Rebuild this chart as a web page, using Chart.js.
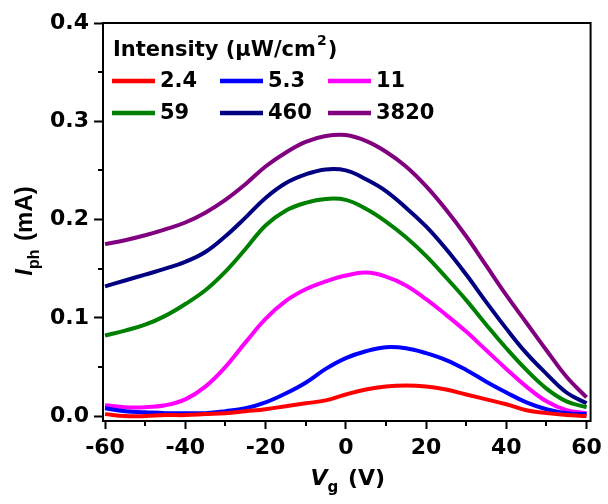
<!DOCTYPE html>
<html>
<head>
<meta charset="utf-8">
<script src="https://cdn.jsdelivr.net/npm/chart.js@4"></script>
<style>
  html, body { margin: 0; padding: 0; background: #fff; }
  #wrap { width: 608px; height: 504px; }
</style>
</head>
<body>
<div id="wrap"><canvas id="ivChart" width="608" height="504"></canvas></div>
<script>
// gate voltage (V)
const vg = [-60, -55, -50, -45, -40, -35, -30, -25, -20, -15, -10, -5, 0,
            5, 10, 15, 20, 25, 30, 35, 40, 45, 50, 55, 60];

// photocurrent (mA) for each light intensity (uW/cm2)
const intensities = ['2.4', '5.3', '11', '59', '460', '3820'];
const i_2_4  = [0.002, 0.000, 0.000, 0.001, 0.001, 0.002, 0.003, 0.005, 0.007, 0.010, 0.013, 0.016, 0.022,
                0.027, 0.030, 0.031, 0.030, 0.027, 0.022, 0.017, 0.012, 0.006, 0.003, 0.001, 0.000];
const i_5_3  = [0.008, 0.005, 0.004, 0.003, 0.003, 0.003, 0.005, 0.008, 0.014, 0.023, 0.034, 0.048, 0.059,
                0.066, 0.070, 0.069, 0.064, 0.057, 0.047, 0.035, 0.024, 0.014, 0.007, 0.003, 0.002];
const i_11   = [0.011, 0.009, 0.009, 0.011, 0.017, 0.030, 0.050, 0.075, 0.099, 0.117, 0.129, 0.137, 0.143,
                0.146, 0.142, 0.133, 0.119, 0.103, 0.086, 0.067, 0.048, 0.030, 0.015, 0.006, 0.003];
const i_59   = [0.082, 0.087, 0.093, 0.102, 0.114, 0.128, 0.147, 0.170, 0.194, 0.209, 0.217, 0.221, 0.220,
                0.211, 0.198, 0.182, 0.163, 0.141, 0.118, 0.093, 0.069, 0.047, 0.028, 0.015, 0.009];
const i_460  = [0.132, 0.138, 0.144, 0.150, 0.157, 0.167, 0.183, 0.202, 0.222, 0.237, 0.246, 0.251, 0.250,
                0.241, 0.229, 0.212, 0.193, 0.170, 0.144, 0.116, 0.089, 0.064, 0.043, 0.024, 0.013];
const i_3820 = [0.175, 0.179, 0.184, 0.190, 0.197, 0.207, 0.220, 0.236, 0.254, 0.268, 0.279, 0.285, 0.286,
                0.280, 0.269, 0.254, 0.234, 0.210, 0.183, 0.153, 0.123, 0.095, 0.067, 0.040, 0.019];

const xTicks = [-60, -40, -20, 0, 20, 40, 60];
const xMinor = [-50, -30, -10, 10, 30, 50];
const yMinor = [0.05, 0.15, 0.25, 0.35];

const series = [i_2_4, i_5_3, i_11, i_59, i_460, i_3820];
const colors = ['#ff0000', '#0000ff', '#ff00ff', '#008000', '#000080', '#800080'];

const datasets = series.map((s, k) => ({
  label: intensities[k],
  data: vg.map((v, j) => ({ x: v, y: s[j] })),
  borderColor: colors[k],
  borderWidth: 4,
  pointRadius: 0,
  fill: false,
  tension: 0.4
}));

const tickFont = { family: 'DejaVu Sans', size: 22, weight: 'bold' };

// box, minor ticks, legend and axis titles
const decorations = {
  id: 'decorations',
  afterDraw(chart) {
    const ctx = chart.ctx;
    const a = chart.chartArea;
    const xs = chart.scales.x, ys = chart.scales.y;
    ctx.save();
    ctx.strokeStyle = '#000';
    ctx.lineWidth = 2;
    ctx.strokeRect(a.left, a.top, a.right - a.left, a.bottom - a.top);

    ctx.beginPath();
    xMinor.forEach(v => {
      const px = Math.round(xs.getPixelForValue(v));
      ctx.moveTo(px, a.bottom);
      ctx.lineTo(px, a.bottom + 5);
    });
    yMinor.forEach(v => {
      const py = Math.round(ys.getPixelForValue(v));
      ctx.moveTo(a.left, py);
      ctx.lineTo(a.left - 5, py);
    });
    ctx.stroke();

    // legend
    ctx.fillStyle = '#000';
    ctx.textBaseline = 'alphabetic';
    ctx.textAlign = 'left';
    ctx.font = 'bold 21px "DejaVu Sans"';
    const t1 = 'Intensity (\u03bcW/cm';
    ctx.fillText(t1, 113, 56);
    let w = ctx.measureText(t1).width;
    ctx.font = 'bold 14px "DejaVu Sans"';
    ctx.fillText('2', 113 + w + 1, 45);
    w += ctx.measureText('2').width + 2;
    ctx.font = 'bold 21px "DejaVu Sans"';
    ctx.fillText(')', 113 + w, 56);

    const colX = [112, 220, 328];
    const rowY = [81, 113];
    ctx.textBaseline = 'middle';
    intensities.forEach((lab, k) => {
      const cx = colX[k % 3], cy = rowY[Math.floor(k / 3)];
      ctx.strokeStyle = colors[k];
      ctx.lineWidth = 4.5;
      ctx.beginPath();
      ctx.moveTo(cx, cy);
      ctx.lineTo(cx + 43, cy);
      ctx.stroke();
      ctx.fillStyle = '#000';
      ctx.font = 'bold 21px "DejaVu Sans"';
      ctx.fillText(lab, cx + 48, cy + 1);
    });

    // x title: Vg (V)
    ctx.textBaseline = 'alphabetic';
    const xParts = [
      ['italic bold 22px "DejaVu Sans"', 'V', 0],
      ['bold 15px "DejaVu Sans"', 'g', 7],
      ['bold 22px "DejaVu Sans"', ' (V)', 0]
    ];
    drawParts(ctx, xParts, (a.left + a.right) / 2, 485);

    // y title: Iph (mA)
    ctx.translate(32, 232);
    ctx.rotate(-Math.PI / 2);
    const yParts = [
      ['italic bold 24px "Liberation Sans"', 'I', 0],
      ['bold 16px "Liberation Sans"', 'ph', 7],
      ['bold 24px "Liberation Sans"', ' (mA)', 0]
    ];
    drawParts(ctx, yParts, 0, 0);
    ctx.restore();
  }
};

function drawParts(ctx, parts, cx, by) {
  let total = 0;
  parts.forEach(p => { ctx.font = p[0]; total += ctx.measureText(p[1]).width; });
  let x = cx - total / 2;
  ctx.textAlign = 'left';
  ctx.fillStyle = '#000';
  parts.forEach(p => {
    ctx.font = p[0];
    ctx.fillText(p[1], x, by + p[2]);
    x += ctx.measureText(p[1]).width + (p[2] ? 2 : 0);
  });
}

new Chart(document.getElementById('ivChart'), {
  type: 'line',
  data: { datasets },
  options: {
    responsive: false,
    animation: false,
    layout: { padding: { top: 23, right: 15, left: 0, bottom: 0 } },
    plugins: { legend: { display: false }, tooltip: { enabled: false } },
    scales: {
      x: {
        type: 'linear',
        min: -60.5,
        max: 61,
        afterFit: s => { s.height = 83; },
        afterBuildTicks: s => { s.ticks = xTicks.map(v => ({ value: v })); },
        ticks: { font: tickFont, color: '#000', padding: 6, maxRotation: 0 },
        grid: { drawOnChartArea: false, drawTicks: true, tickLength: 8, tickWidth: 2, tickColor: '#000' },
        border: { color: '#000', width: 2 }
      },
      y: {
        min: -0.005,
        max: 0.4,
        afterFit: s => { s.width = 103; },
        ticks: {
          stepSize: 0.1,
          includeBounds: false,
          font: tickFont,
          color: '#000',
          padding: 5,
          callback: v => v.toFixed(1)
        },
        grid: { drawOnChartArea: false, drawTicks: true, tickLength: 9, tickWidth: 2, tickColor: '#000' },
        border: { color: '#000', width: 2 }
      }
    }
  },
  plugins: [decorations]
});
</script>
</body>
</html>
